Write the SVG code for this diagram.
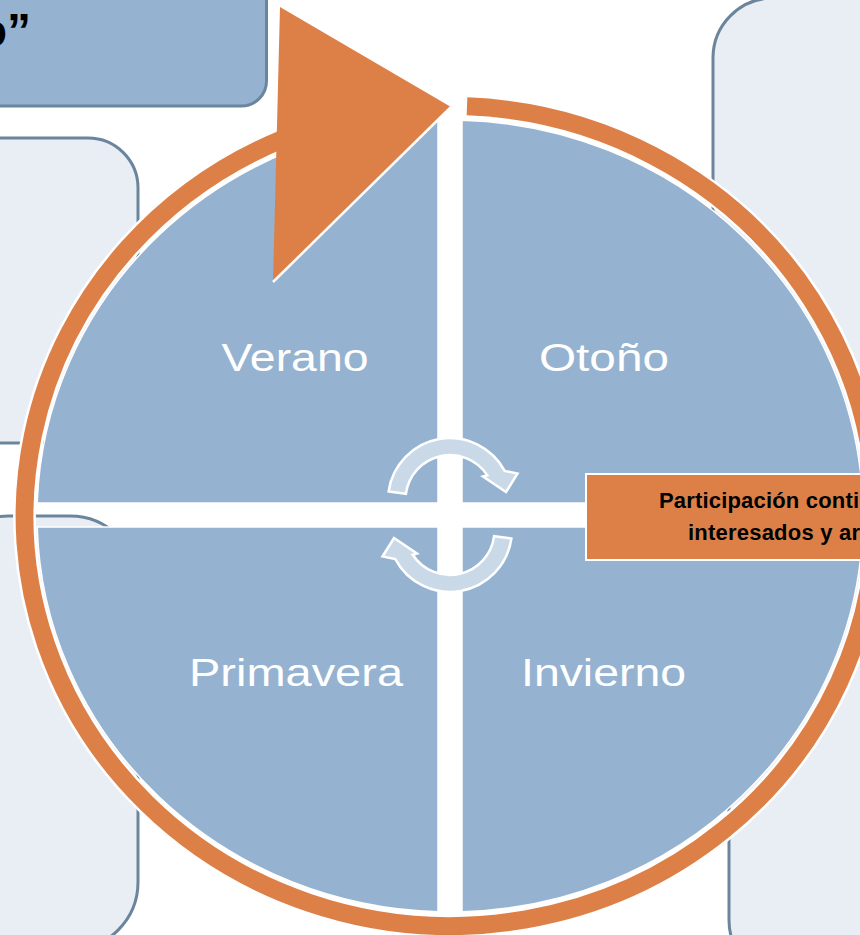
<svg xmlns="http://www.w3.org/2000/svg" width="860" height="935" viewBox="0 0 860 935">
  <style>
    .bgbox { fill: #e9eef5; stroke: #6b859c; stroke-width: 3; }
    .bluebox { fill: #95b3d0; stroke: #6b859c; stroke-width: 3; }
    .quad { fill: #95b3d0; stroke: #ffffff; stroke-width: 1.5; }
    .qlabel { font-family: "Liberation Sans", Arial, sans-serif; font-size: 38px; fill: #ffffff; text-anchor: middle; }
    .olabel { font-family: "Liberation Sans", Arial, sans-serif; font-size: 22px; font-weight: bold; fill: #000000; }
    .cyc { fill: #cad9e8; stroke: #ffffff; stroke-width: 2.5; stroke-linejoin: miter; }
  </style>
  <defs>
    <path id="topArrow" d="M388.6,491.5 A62,62 0 0 1 504.7,470.9 L517.5,473.5 L506,492 L483,476.5 L487.3,475.3 A44.5,44.5 0 0 0 405.9,493.8 Z"/>
  </defs>
  <rect width="860" height="935" fill="#ffffff"/>

  <!-- background boxes -->
  <g id="box-top-left">
    <rect class="bluebox" x="-30" y="-40" width="296.5" height="146" rx="25"/>
    <text x="31" y="47" font-family="'Liberation Sans', Arial, sans-serif" font-size="48" font-weight="bold" fill="#000000" text-anchor="end">o”</text>
  </g>
  <g id="box-left-upper">
    <rect class="bgbox" x="-60" y="138" width="198" height="305" rx="50"/>
  </g>
  <g id="box-left-lower">
    <rect class="bgbox" x="-60" y="516" width="198" height="434" rx="68"/>
  </g>
  <g id="box-right-upper">
    <rect class="bgbox" x="713" y="-2" width="200" height="500" rx="60"/>
  </g>
  <g id="box-right-lower">
    <rect class="bgbox" x="729" y="560" width="200" height="420" rx="60"/>
  </g>

  <!-- quadrants -->
  <g id="verano">
    <path class="quad" d="M438,503 L438,120.2 A413,396 0 0 0 37.2,503 Z"/>
    <text class="qlabel" x="295" y="371" textLength="147" lengthAdjust="spacingAndGlyphs">Verano</text>
  </g>
  <g id="otono">
    <path class="quad" d="M462,503 L462,120.2 A413,396 0 0 1 862.8,503 Z"/>
    <text class="qlabel" x="604" y="371" textLength="130" lengthAdjust="spacingAndGlyphs">Otoño</text>
  </g>
  <g id="primavera">
    <path class="quad" d="M438,527 L37.2,527 A413,396 0 0 0 438,911.8 Z"/>
    <text class="qlabel" x="296" y="686" textLength="214" lengthAdjust="spacingAndGlyphs">Primavera</text>
  </g>
  <g id="invierno">
    <path class="quad" d="M462,527 L862.8,527 A413,396 0 0 1 462,911.8 Z"/>
    <text class="qlabel" x="603.5" y="686" textLength="165" lengthAdjust="spacingAndGlyphs">Invierno</text>
  </g>

  <!-- connectors: cycle ring with arrowhead, central cycle arrows -->
  <g id="connectors">
    <path d="M467,106.3 A425.5,410 0 1 1 285,138.1" fill="none" stroke="#ffffff" stroke-width="23"/>
    <path d="M467,106.3 A425.5,410 0 1 1 285,138.1" fill="none" stroke="#dd8047" stroke-width="18"/>
    <polygon points="280,7 451,107 273,282" fill="#dd8047"/>
    <line x1="451" y1="107" x2="273" y2="282" stroke="#ffffff" stroke-width="2.5"/>
    <use href="#topArrow" class="cyc"/>
    <use href="#topArrow" class="cyc" transform="rotate(180 450 515)"/>
  </g>

  <!-- orange label -->
  <g id="participacion">
    <rect x="586" y="474" width="300" height="86" fill="#dd8047" stroke="#ffffff" stroke-width="2"/>
    <text class="olabel" x="659" y="508" textLength="200" lengthAdjust="spacing">Participación conti</text>
    <text class="olabel" x="688" y="540" textLength="172" lengthAdjust="spacing">interesados y ar</text>
  </g>
</svg>
